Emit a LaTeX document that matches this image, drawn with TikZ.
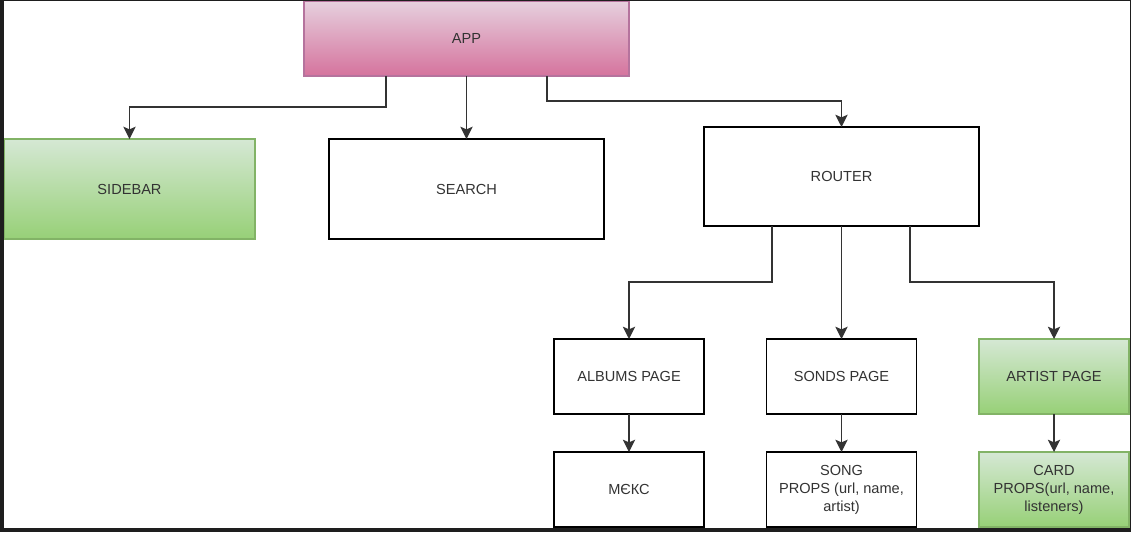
\documentclass[tikz,border=0pt]{standalone}
\usepackage{fontspec}
\setmainfont{Liberation Sans}
\usetikzlibrary{arrows.meta, positioning}
\definecolor{pinktop}{HTML}{E6D0DE}
\definecolor{pinkbot}{HTML}{D5739D}
\definecolor{pinkline}{HTML}{B5739D}
\definecolor{greentop}{HTML}{D5E8D4}
\definecolor{greenbot}{HTML}{97D077}
\definecolor{greenline}{HTML}{82B366}
\definecolor{ink}{HTML}{333333}
\definecolor{frame}{HTML}{1E1E1E}

\begin{document}
\begin{tikzpicture}[x=0.02cm, y=-0.02cm,
    box/.style={draw=black, line width=0.7pt, fill=white, inner sep=0pt, outer sep=0pt,
        align=center, text=ink, font=\fontsize{8.3}{10.2}\selectfont},
    pinkbox/.style={box, draw=pinkline, top color=pinktop, bottom color=pinkbot},
    greenbox/.style={box, draw=greenline, top color=greentop, bottom color=greenbot},
    page/.style={box, minimum width=3cm, minimum height=1.5cm},
    link/.style={draw=ink, line width=0.75pt, -{Stealth[length=7pt, width=7pt, inset=1.5pt]}}]
    \useasboundingbox (0,0) rectangle (1131,532);

    % top level
    \node[pinkbox, minimum width=6.5cm, minimum height=1.5cm] (app) at (466.5,38.5) {APP};
    \node[greenbox, minimum width=5.02cm, minimum height=2cm] (sidebar) at (129.5,189) {SIDEBAR};
    \node[box, minimum width=5.5cm, minimum height=2cm] (search) at (466.5,189) {SEARCH};
    \node[box, minimum width=5.5cm, minimum height=1.98cm] (router) at (841.5,176.5) {ROUTER};

    % pages
    \node[page] (albums) at (629,376.5) {ALBUMS PAGE};
    \node[page] (songs) at (841.5,376.5) {SONDS PAGE};
    \node[page, greenbox] (artist) at (1054,376.5) {ARTIST PAGE};

    % props
    \node[page] (mix) at (629,489.5) {МЄКС};
    \node[page] (song) at (841.5,489.5) {SONG\\PROPS (url, name,\\artist)};
    \node[page, greenbox] (card) at (1054,489.5) {CARD\\PROPS(url, name,\\listeners)};

    \draw[link] ([xshift=-1.61cm]app.south) -- ++(0,31) -| (sidebar.north);
    \draw[link] (app.south) -- (search.north);
    \draw[link] ([xshift=1.61cm]app.south) -- ++(0,25) -| (router.north);
    \draw[link] ([xshift=-1.39cm]router.south) -- ++(0,56) -| (albums.north);
    \draw[link] (router.south) -- (songs.north);
    \draw[link] ([xshift=1.37cm]router.south) -- ++(0,56) -| (artist.north);
    \draw[link] (albums.south) -- (mix.north);
    \draw[link] (songs.south) -- (song.north);
    \draw[link] (artist.south) -- (card.north);

    % dark window edge
    \fill[frame] (0,0) rectangle (4,532);
    \fill[frame] (0,0) rectangle (1131,1);
    \fill[frame] (1129.5,0) rectangle (1131,532);
    \fill[frame] (0,527.5) rectangle (1131,532);
\end{tikzpicture}
\end{document}
